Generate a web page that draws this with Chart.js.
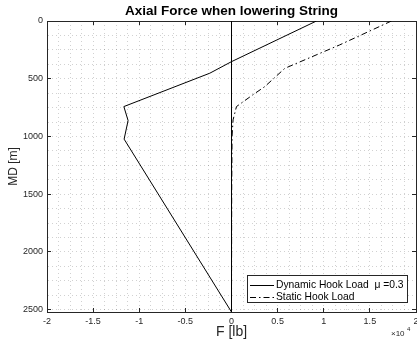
<!DOCTYPE html>
<html>
<head>
<meta charset="utf-8">
<script src="https://cdn.jsdelivr.net/npm/chart.js@4"></script>
<style>
  html, body { margin: 0; padding: 0; background: #fff; }
</style>
</head>
<body>
<canvas id="axialForce" width="417" height="350"></canvas>
<script>
var dynamicDepth = [0, 352, 452, 741, 862, 1023, 2520];
var dynamicForce = [9210, 0, -2350, -11670, -11210, -11640, 0];
var staticDepth = [0, 208, 410, 568, 640, 741, 856, 1000, 1500, 2520];
var staticForce = [17340, 11700, 5780, 3610, 2300, 540, 170, 60, 20, 0];
// vertical zero line
var zeroDepth = [0, 2520];
var zeroForce = [0, 0];

var xMajorTicks = [-20000, -15000, -10000, -5000, 0, 5000, 10000, 15000, 20000];
var yMajorTicks = [0, 500, 1000, 1500, 2000, 2500];

var FONT = '"Liberation Sans", Arial, Helvetica, sans-serif';
var AXIS = '#262626';

function points(xs, ys) {
    return ys.map(function (y, i) { return { x: xs[i], y: y }; });
}

function majorTickColor(list) {
    return function (ctx) {
        return ctx.tick && list.indexOf(ctx.tick.value) >= 0 ? AXIS : 'rgba(0,0,0,0)';
    };
}

// legend box in the lower right corner + x10^4 exponent label
var boxLegend = {
    id: 'boxLegend',
    afterDraw: function (chart) {
        var ctx = chart.ctx;
        var area = chart.chartArea;
        var sets = chart.data.datasets.filter(function (d) { return d.label; });
        var w = 160, h = 27;
        var x = Math.round(area.right - 9 - w);
        var y = Math.round(area.bottom - 10 - h);
        ctx.save();
        ctx.fillStyle = '#fff';
        ctx.fillRect(x, y, w, h);
        ctx.strokeStyle = AXIS;
        ctx.lineWidth = 1;
        ctx.strokeRect(x + 0.5, y + 0.5, w, h);
        ctx.font = '10.3px ' + FONT;
        ctx.textBaseline = 'middle';
        sets.forEach(function (d, i) {
            var cy = Math.round(y + 10 + i * 11.7) + 0.5;
            ctx.strokeStyle = d.borderColor;
            ctx.lineWidth = 1;
            ctx.setLineDash(d.borderDash || []);
            ctx.beginPath();
            ctx.moveTo(x + 3, cy);
            ctx.lineTo(x + 27, cy);
            ctx.stroke();
            ctx.setLineDash([]);
            ctx.fillStyle = '#000';
            ctx.fillText(d.label, x + 29, cy);
        });
        // exponent
        ctx.fillStyle = AXIS;
        ctx.textBaseline = 'alphabetic';
        ctx.textAlign = 'left';
        ctx.font = '8px ' + FONT;
        ctx.fillText('\u00d710', area.right - 25, 336);
        ctx.font = '6px ' + FONT;
        ctx.fillText('4', area.right - 9, 331);
        ctx.restore();
    }
};

var axialChart = new Chart(document.getElementById('axialForce').getContext('2d'), {
    type: 'scatter',
    data: {
        datasets: [
            {
                label: 'Dynamic Hook Load  \u03bc =0.3',
                data: points(dynamicForce, dynamicDepth),
                borderColor: '#000',
                borderWidth: 1,
            },
            {
                label: 'Static Hook Load',
                data: points(staticForce, staticDepth),
                borderColor: '#000',
                borderWidth: 1,
                borderDash: [6, 3, 1.5, 3],
            },
            {
                label: '',
                data: points(zeroForce, zeroDepth),
                borderColor: '#000',
                borderWidth: 1,
            },
        ],
    },
    options: {
        responsive: false,
        animation: false,
        devicePixelRatio: 1,
        showLine: true,
        layout: { padding: { left: 0, right: 1, top: 0, bottom: 0 } },
        elements: {
            point: { radius: 0, hoverRadius: 0 },
            line: { tension: 0, fill: false },
        },
        plugins: {
            legend: { display: false },
            tooltip: { enabled: false },
            title: {
                display: true,
                fullSize: false,
                text: 'Axial Force when lowering String',
                color: '#000',
                font: { family: FONT, size: 13.5, weight: 'bold' },
                padding: { top: 2.9, bottom: 1.9 },
            },
        },
        scales: {
            x: {
                type: 'linear',
                position: 'bottom',
                min: -20000,
                max: 20000,
                afterFit: function (s) { s.height = 38; s.paddingLeft = 0; s.paddingRight = 0; },
                ticks: {
                    stepSize: 1250,
                    autoSkip: false,
                    maxRotation: 0,
                    padding: 8.6,
                    color: AXIS,
                    font: { family: FONT, size: 9 },
                    callback: function (v) { return xMajorTicks.indexOf(v) >= 0 ? String(v / 10000) : ''; },
                },
                grid: {
                    color: 'rgba(0,0,0,0.18)',
                    tickLength: -4,
                    tickColor: majorTickColor(xMajorTicks),
                },
                border: { color: AXIS, dash: [1, 3] },
                title: {
                    display: true,
                    text: 'F [lb]',
                    color: AXIS,
                    font: { family: FONT, size: 14 },
                    padding: { top: 0, bottom: 9 },
                },
            },
            x2: {
                type: 'linear',
                position: 'top',
                min: -20000,
                max: 20000,
                afterFit: function (s) { s.height = 0; s.paddingLeft = 0; s.paddingRight = 0; },
                ticks: { stepSize: 1250, autoSkip: false, display: false },
                grid: {
                    drawOnChartArea: false,
                    tickLength: -4,
                    tickColor: majorTickColor(xMajorTicks),
                },
                border: { color: AXIS },
            },
            y: {
                type: 'linear',
                position: 'left',
                reverse: true,
                min: 0,
                max: 2520,
                afterFit: function (s) { s.width = 47; s.paddingTop = 0; s.paddingBottom = 0; },
                ticks: {
                    stepSize: 125,
                    autoSkip: false,
                    includeBounds: false,
                    padding: 8,
                    color: AXIS,
                    font: { family: FONT, size: 9 },
                    callback: function (v) { return yMajorTicks.indexOf(v) >= 0 ? String(v) : ''; },
                },
                grid: {
                    color: 'rgba(0,0,0,0.18)',
                    tickLength: -4,
                    tickColor: majorTickColor(yMajorTicks),
                },
                border: { color: AXIS, dash: [1, 3] },
                title: {
                    display: true,
                    text: 'MD [m]',
                    color: AXIS,
                    font: { family: FONT, size: 12 },
                    padding: { top: 6, bottom: 0 },
                },
            },
            y2: {
                type: 'linear',
                position: 'right',
                reverse: true,
                min: 0,
                max: 2520,
                afterFit: function (s) { s.width = 0; s.paddingTop = 0; s.paddingBottom = 0; },
                ticks: { stepSize: 125, autoSkip: false, includeBounds: false, display: false },
                grid: {
                    drawOnChartArea: false,
                    tickLength: -4,
                    tickColor: majorTickColor(yMajorTicks),
                },
                border: { color: AXIS },
            },
        },
    },
    plugins: [boxLegend],
});
</script>
</body>
</html>
